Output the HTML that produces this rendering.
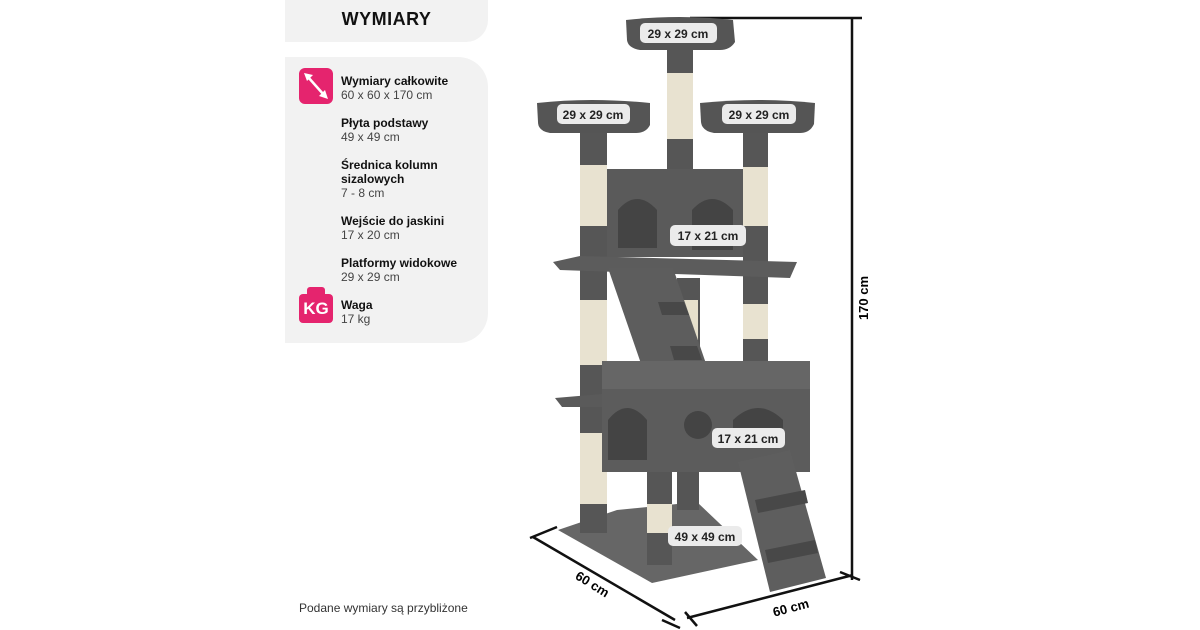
<!DOCTYPE html>
<html><head><meta charset="utf-8"><style>
body{margin:0;width:1200px;height:630px;background:#fff;position:relative;overflow:hidden;font-family:"Liberation Sans",sans-serif}
.p{position:absolute;background:#f2f2f2}
.t{position:absolute;left:341px;font-size:12px;line-height:14px;color:#222}
.t b{display:block;color:#111}
.t span{color:#444}
.ic{position:absolute;left:299px;width:34px;height:36px;background:#e5246e;border-radius:6px}
</style></head><body>
<div class="p" style="left:285px;top:0;width:203px;height:42px;border-radius:0 0 22px 0"></div>
<div style="position:absolute;left:285px;top:9px;width:203px;text-align:center;font-weight:900;font-size:18px;letter-spacing:0.5px;color:#111">WYMIARY</div>
<div class="p" style="left:285px;top:57px;width:203px;height:286px;border-radius:0 30px 30px 0"></div>
<div class="ic" style="top:68px"><svg width="34" height="36"><line x1="9" y1="9" x2="25" y2="27" stroke="#fff" stroke-width="2.5"/><polygon points="5,5 14,7 8,13" fill="#fff"/><polygon points="29,31 20,28 26,22" fill="#fff"/></svg></div>
<div class="t" style="top:74px"><b>Wymiary całkowite</b><span>60 x 60 x 170 cm</span></div>
<div class="t" style="top:116px"><b>Płyta podstawy</b><span>49 x 49 cm</span></div>
<div class="t" style="top:158px"><b>Średnica kolumn<br>sizalowych</b><span>7 - 8 cm</span></div>
<div class="t" style="top:214px"><b>Wejście do jaskini</b><span>17 x 20 cm</span></div>
<div class="t" style="top:256px"><b>Platformy widokowe</b><span>29 x 29 cm</span></div>
<div style="position:absolute;left:307px;top:287px;width:18px;height:8px;background:#e5246e;border-radius:3px 3px 0 0"></div>
<div class="ic" style="top:294px;height:29px;border-radius:4px;color:#fff;font-weight:900;font-size:17px;text-align:center;line-height:29px">KG</div>
<div class="t" style="top:298px"><b>Waga</b><span>17 kg</span></div>
<div style="position:absolute;left:299px;top:601px;font-size:12px;color:#333">Podane wymiary są przybliżone</div>

<svg width="1200" height="630" style="position:absolute;left:0;top:0" font-family="Liberation Sans" font-weight="bold" font-size="12">
<g stroke="#111" stroke-width="2.5" fill="none">
<line x1="690" y1="18" x2="862" y2="18"/><line x1="852" y1="18" x2="852" y2="580"/><line x1="840" y1="572" x2="860" y2="580"/>
<line x1="533" y1="537" x2="675" y2="620"/><line x1="530" y1="538" x2="557" y2="527"/><line x1="662" y1="620" x2="680" y2="628"/>
<line x1="687" y1="618" x2="853" y2="575"/><line x1="685" y1="612" x2="697" y2="626"/>
</g>
<text x="868" y="298" transform="rotate(-90 868 298)" text-anchor="middle" font-size="13">170 cm</text>
<text x="590" y="588" transform="rotate(32 590 588)" text-anchor="middle" font-size="13">60 cm</text>
<text x="792" y="612" transform="rotate(-15 792 612)" text-anchor="middle" font-size="13">60 cm</text>
<!-- base -->
<polygon points="558,530 617,510 697,502 758,560 652,583" fill="#666"/>
<!-- back posts -->
<rect x="677" y="278" width="23" height="90" fill="#555"/><rect x="680" y="300" width="18" height="40" fill="#e6e0cc"/>
<rect x="677" y="470" width="22" height="40" fill="#555"/>
<!-- left post -->
<rect x="580" y="133" width="27" height="400" fill="#565656"/>
<rect x="580" y="165" width="27" height="61" fill="#e8e2d0"/><rect x="580" y="300" width="27" height="65" fill="#e8e2d0"/><rect x="580" y="433" width="27" height="71" fill="#e8e2d0"/>
<!-- right post -->
<rect x="743" y="133" width="25" height="237" fill="#565656"/>
<rect x="743" y="167" width="25" height="59" fill="#e8e2d0"/><rect x="743" y="304" width="25" height="35" fill="#e8e2d0"/>
<!-- center post -->
<rect x="667" y="50" width="26" height="127" fill="#565656"/><rect x="667" y="73" width="26" height="66" fill="#e8e2d0"/>
<!-- perches -->
<path d="M626,20 Q680,14 733,20 L735,42 Q730,50 720,50 L640,50 Q628,48 627,40Z" fill="#555"/>
<path d="M537,103 Q590,97 650,103 L650,125 Q646,133 636,133 L550,133 Q538,131 538,122Z" fill="#555"/>
<path d="M700,103 Q760,97 815,103 L814,124 Q810,133 800,133 L714,133 Q702,131 701,122Z" fill="#555"/>
<!-- upper box -->
<rect x="607" y="169" width="136" height="88" fill="#5a5a5a"/>
<path d="M618,248 L618,210 Q637,188 657,210 L657,248Z" fill="#444"/>
<path d="M692,250 L692,210 Q712,188 733,210 L733,250Z" fill="#444"/>
<polygon points="553,262 580,256 797,262 790,278 560,270" fill="#5c5c5c"/>
<!-- upper ramp -->
<polygon points="608,268 673,268 712,381 647,381" fill="#5d5d5d"/>
<polygon points="658,302 684,302 689,315 662,315" fill="#484848"/>
<polygon points="670,346 697,346 702,360 674,360" fill="#484848"/>
<!-- lower box -->
<rect x="602" y="361" width="208" height="111" fill="#5c5c5c"/>
<rect x="602" y="361" width="208" height="28" fill="#666"/>
<polygon points="555,398 602,394 602,407 562,407" fill="#5a5a5a"/>
<path d="M608,460 L608,420 Q627,396 647,420 L647,460Z" fill="#444"/>
<circle cx="698" cy="425" r="14" fill="#444"/>
<path d="M733,440 L733,420 Q758,396 783,420 L783,440Z" fill="#444"/>
<!-- front base post -->
<rect x="647" y="472" width="25" height="93" fill="#565656"/><rect x="647" y="504" width="25" height="29" fill="#e8e2d0"/>
<!-- lower ramp -->
<polygon points="738,462 790,450 826,578 770,592" fill="#5e5e5e"/>
<polygon points="755,500 805,490 808,503 758,513" fill="#484848"/>
<polygon points="765,550 815,540 818,553 768,563" fill="#484848"/>
<!-- labels -->
<g fill="#ebebeb"><rect x="640" y="23" width="77" height="20" rx="5"/><rect x="557" y="104" width="73" height="20" rx="5"/><rect x="722" y="104" width="74" height="20" rx="5"/><rect x="670" y="225" width="76" height="21" rx="5"/><rect x="712" y="428" width="73" height="20" rx="5"/><rect x="668" y="526" width="74" height="20" rx="5"/></g>
<g fill="#222" text-anchor="middle"><text x="678" y="38">29 x 29 cm</text><text x="593" y="119">29 x 29 cm</text><text x="759" y="119">29 x 29 cm</text><text x="708" y="240">17 x 21 cm</text><text x="748" y="443">17 x 21 cm</text><text x="705" y="541">49 x 49 cm</text></g>
</svg>
</body></html>
